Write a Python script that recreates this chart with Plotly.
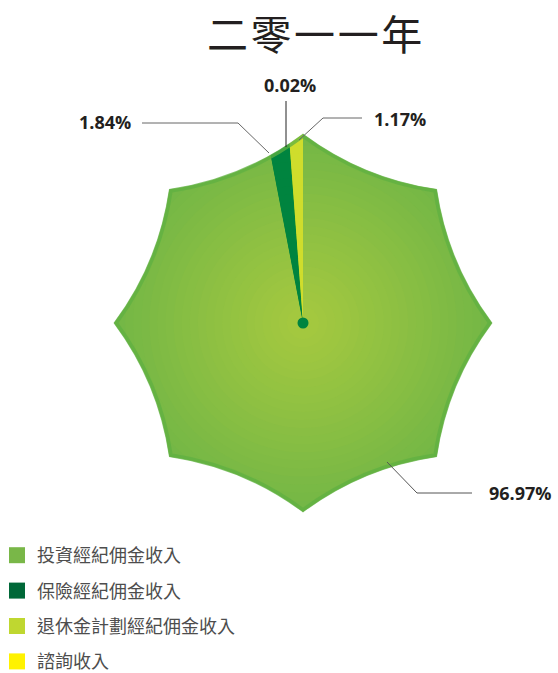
import math
import plotly.graph_objects as go

# ---------------- data ----------------
title_text = "二零一一年"
labels = ["投資經紀佣金收入", "保險經紀佣金收入", "諮詢收入", "退休金計劃經紀佣金收入"]
values = [96.97, 1.84, 0.02, 1.17]
slice_colors = ["#7fbc45", "#00843f", "#fff200", "#cfdd2c"]
legend_labels = ["投資經紀佣金收入", "保險經紀佣金收入", "退休金計劃經紀佣金收入", "諮詢收入"]
legend_colors = ["#79b748", "#006838", "#bfd730", "#fff200"]

W, H = 558, 673
CX, CY = 303, 323
R_PIE = 194


def dom(r):
    return dict(x=[(CX - r) / W, (CX + r) / W], y=[1 - (CY + r) / H, 1 - (CY - r) / H])


def mix(c1, c2, t):
    return "rgb(%d,%d,%d)" % tuple(round(a + (b - a) * t) for a, b in zip(c1, c2))


EDGE = (114, 182, 70)
CENTER = (166, 201, 63)

fig = go.Figure()

# stacked pies give the radial shading of the large slice
N = 24
for i in range(N):
    r = R_PIE * (1 - i / N)
    t = (r / R_PIE) ** 1.1
    cols = [mix(CENTER, EDGE, t)] + slice_colors[1:]
    fig.add_trace(go.Pie(
        labels=labels, values=values, sort=False, direction="clockwise", rotation=0,
        marker=dict(colors=cols, line=dict(width=0)), textinfo="none", hoverinfo="label+percent",
        showlegend=False, domain=dom(r)))

# legend entries
for lab, col in zip(legend_labels, legend_colors):
    fig.add_trace(go.Scatter(x=[None], y=[None], mode="markers", name=lab, legendgroup=lab,
                             marker=dict(symbol="square", size=16, color=col)))


def star_path(rt, rc, n=8):
    pts = []
    for k in range(n):
        a = 2 * math.pi * k / n
        b = a + math.pi / n
        pts.append(((CX + rt * math.sin(a), CY - rt * math.cos(a)),
                    (CX + rc * math.sin(b), CY - rc * math.cos(b))))
    s = "M %.2f %.2f " % pts[0][0]
    for k in range(n):
        c = pts[k][1]
        nxt = pts[(k + 1) % n][0]
        s += "Q %.2f %.2f %.2f %.2f " % (c[0], c[1], nxt[0], nxt[1])
    return s + "Z"


shapes = []
# white mask outside the star
shapes.append(dict(type="path", xref="x", yref="y", layer="above",
                   path="M 95 118 H 515 V 530 H 95 Z " + star_path(189, 156),
                   fillcolor="white", fillrule="evenodd", line=dict(width=0)))
# star border
shapes.append(dict(type="path", xref="x", yref="y", layer="above",
                   path=star_path(187, 155), fillcolor="rgba(0,0,0,0)",
                   line=dict(color="rgba(95,176,66,0.75)", width=4)))
# centre dot
shapes.append(dict(type="circle", xref="x", yref="y", layer="above",
                   x0=CX - 5.5, x1=CX + 5.5, y0=CY - 5.5, y1=CY + 5.5,
                   fillcolor="#00843f", line=dict(width=0)))
# leader lines
leaders = [
    ("M 142 123 L 238 123 L 269 153", "#666666"),
    ("M 286 101 L 286 147", "#222222"),
    ("M 362 118 L 323 118 L 299 140", "#666666"),
    ("M 472 493 L 417 493 L 387 462", "#555555"),
]
for p, c in leaders:
    shapes.append(dict(type="path", xref="x", yref="y", layer="above", path=p,
                       line=dict(color=c, width=1)))

# percentage labels
label_pos = {"投資經紀佣金收入": (520, 493), "保險經紀佣金收入": (105, 122),
             "諮詢收入": (290, 85), "退休金計劃經紀佣金收入": (400, 119)}
annotations = []
for lab, v in zip(labels, values):
    x, y = label_pos[lab]
    annotations.append(dict(x=x, y=y, xref="x", yref="y", text="%.2f%%" % v, showarrow=False,
                            xanchor="center", yanchor="middle",
                            font=dict(family="Open Sans", size=18, color="#231f20", weight="bold")))
annotations.append(dict(x=314.5, y=32, xref="x", yref="y", text="\u200a".join(title_text),
                        showarrow=False, xanchor="center", yanchor="middle",
                        font=dict(family="Noto Sans CJK TC", size=41, color="#231f20")))

fig.update_layout(
    width=W, height=H, margin=dict(l=0, r=0, t=0, b=0, autoexpand=False),
    paper_bgcolor="white", plot_bgcolor="rgba(0,0,0,0)",
    xaxis=dict(range=[0, W], visible=False, fixedrange=True),
    yaxis=dict(range=[H, 0], visible=False, fixedrange=True),
    shapes=shapes, annotations=annotations,
    showlegend=True,
    legend=dict(x=-3 / W, xanchor="left", y=1 - 537 / H, yanchor="top",
                font=dict(family="Noto Sans CJK TC", size=18, color="#4d4d4d"),
                tracegroupgap=9, bgcolor="rgba(0,0,0,0)", itemclick=False),
)

fig.write_html("out.html")
